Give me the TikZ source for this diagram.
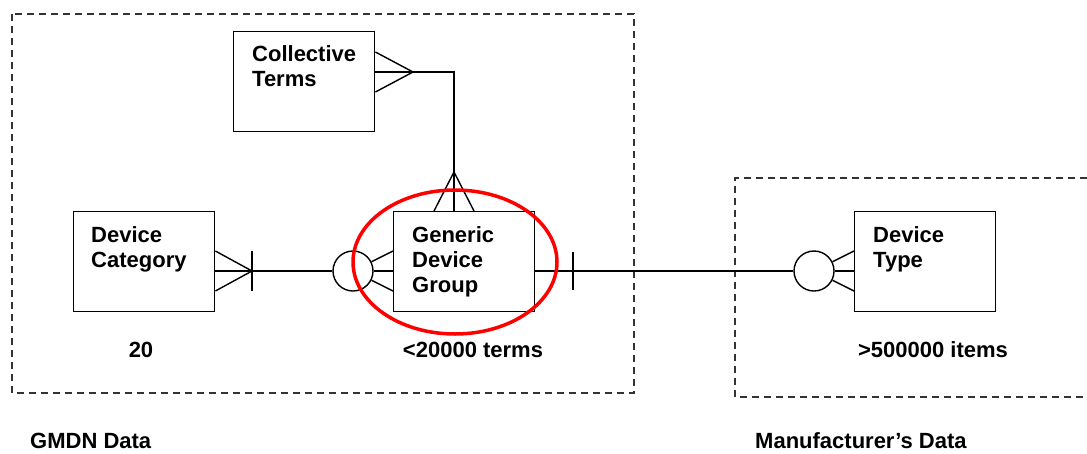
\documentclass[tikz,border=0pt]{standalone}
\usepackage{fontspec}
\setmainfont{Liberation Sans}
\usetikzlibrary{positioning}

\begin{document}
\begin{tikzpicture}[x=1pt, y=-1pt,
    entity/.style={draw, line width=1.4pt, minimum width=141pt, minimum height=100pt, inner sep=0pt, anchor=north west},
    ename/.style={anchor=north west, align=left, inner sep=0pt, font=\bfseries\fontsize{22}{25}\selectfont},
    note/.style={anchor=base, inner sep=0pt, font=\bfseries\fontsize{22}{25}\selectfont},
    opt/.style={draw, circle, line width=1.4pt, minimum size=40pt, inner sep=0pt},
    rel/.style={line width=1.4pt},
    frame/.style={line width=1.4pt, dash pattern=on 7pt off 5pt, black!80}]
    \useasboundingbox (0,0) rectangle (1087,453);

    % data areas
    \draw[frame] (12,14) rectangle (634,393);
    \draw[frame] (1087,178) -- (735,178) -- (735,397) -- (1087,397);

    % entities
    \node[entity] (ct) at (233,31) {};
    \node[entity] (dc) at (73,211) {};
    \node[entity] (gdg) at (393,211) {};
    \node[entity] (dt) at (854,211) {};
    \node[ename] (cttxt) at (252,45) {Collective\\Terms};
    \node[ename] (dctxt) at (91,226) {Device\\Category};
    \node[ename] (gdgtxt) at (412,226) {Generic\\Device\\Group};
    \node[ename] (dttxt) at (873,226) {Device\\Type};

    % collective terms -- generic device group
    \coordinate (ctapex) at (413,72);
    \coordinate (bend) at (454,72);
    \coordinate (gdgapex) at (454,172);
    \foreach \d in {21,41,61}
        \draw[rel] (ctapex) -- ([shift={(0,\d)}]ct.north east);
    \draw[rel] (ctapex) -- (bend) -- (gdgapex);
    \foreach \d in {41,61,81}
        \draw[rel] (gdgapex) -- ([shift={(\d,0)}]gdg.north west);

    % device category -- generic device group
    \coordinate (dcapex) at (252,271);
    \node[opt] (gcirc) at (353,271) {};
    \foreach \d in {40,60,80}
        \draw[rel] (dcapex) -- ([shift={(0,\d)}]dc.north east);
    \draw[rel] (252,251) -- (252,291);
    \draw[rel] (dcapex) -- (gcirc);
    \foreach \d in {40,60,80}
        \draw[rel] (gcirc) -- ([shift={(0,\d)}]gdg.north west);

    % generic device group -- device type
    \node[opt] (tcirc) at (814,271) {};
    \draw[rel] ([shift={(0,60)}]gdg.north east) -- (tcirc);
    \draw[rel] (573,252) -- (573,290);
    \foreach \d in {40,60,80}
        \draw[rel] (tcirc) -- ([shift={(0,\d)}]dt.north west);

    \draw[red, line width=3.5pt] (455,262) ellipse [x radius=102, y radius=72];

    % counts
    \node[note] (n1) at (141,357) {20};
    \node[note] (n2) at (473,357) {<20000 terms};
    \node[note] (n3) at (933,357) {>500000 items};

    \node[note, anchor=base west] (gmdn) at (30,448) {GMDN Data};
    \node[note, anchor=base west] (manu) at (755,448) {Manufacturer's Data};
\end{tikzpicture}
\end{document}
